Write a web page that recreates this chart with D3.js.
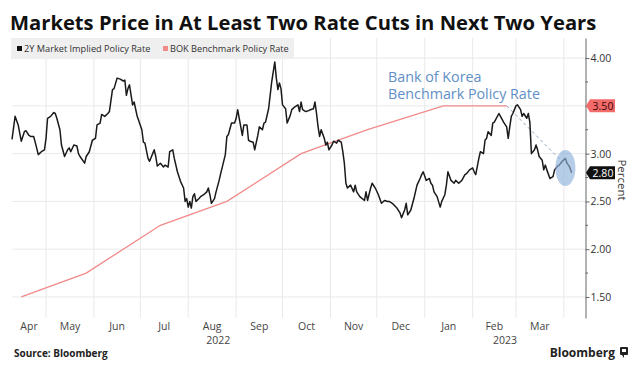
<!DOCTYPE html>
<html>
<head>
<meta charset="utf-8">
<script src="https://cdn.jsdelivr.net/npm/d3@7"></script>
<style>
  body { margin: 0; background: #fff; }
  text { font-family: "Open Sans", "Noto Sans", sans-serif; }
</style>
</head>
<body>
<script>
// Titulos y textos
var title = "Markets Price in At Least Two Rate Cuts in Next Two Years";
var seriesNames = ["2Y Market Implied Policy Rate", "BOK Benchmark Policy Rate"];
var annotationLines = ["Bank of Korea", "Benchmark Policy Rate"];

// 2Y market implied policy rate
var marketDates = [
  "2022-04-09","2022-04-11","2022-04-13","2022-04-15","2022-04-17","2022-04-18","2022-04-20","2022-04-21","2022-04-23","2022-04-24",
  "2022-04-26","2022-04-28","2022-04-30","2022-05-01","2022-05-02","2022-05-04","2022-05-06","2022-05-07","2022-05-08","2022-05-10",
  "2022-05-11","2022-05-13","2022-05-15","2022-05-16","2022-05-17","2022-05-19","2022-05-21","2022-05-22","2022-05-23","2022-05-26",
  "2022-05-27","2022-05-29","2022-05-31","2022-06-02","2022-06-03","2022-06-05","2022-06-06","2022-06-08","2022-06-10","2022-06-11",
  "2022-06-13","2022-06-14","2022-06-16","2022-06-18","2022-06-20","2022-06-21","2022-06-22","2022-06-23","2022-06-24","2022-06-26",
  "2022-06-27","2022-06-29","2022-07-02","2022-07-03","2022-07-04","2022-07-06","2022-07-07","2022-07-09","2022-07-10","2022-07-11",
  "2022-07-12","2022-07-14","2022-07-16","2022-07-17","2022-07-19","2022-07-20","2022-07-22","2022-07-23","2022-07-25","2022-07-27",
  "2022-07-29","2022-07-30","2022-07-31","2022-08-01","2022-08-02","2022-08-03","2022-08-04","2022-08-05","2022-08-06","2022-08-08",
  "2022-08-09","2022-08-11","2022-08-13","2022-08-14","2022-08-15","2022-08-16","2022-08-18","2022-08-19","2022-08-21","2022-08-22",
  "2022-08-25","2022-08-26","2022-08-27","2022-08-29","2022-08-31","2022-09-01","2022-09-02","2022-09-03","2022-09-05","2022-09-06",
  "2022-09-08","2022-09-09","2022-09-10","2022-09-12","2022-09-13","2022-09-15","2022-09-16","2022-09-18","2022-09-19","2022-09-20",
  "2022-09-22","2022-09-23","2022-09-24","2022-09-26","2022-09-27","2022-09-28","2022-09-29","2022-09-30","2022-10-01","2022-10-03",
  "2022-10-04","2022-10-06","2022-10-07","2022-10-09","2022-10-11","2022-10-12","2022-10-13","2022-10-14","2022-10-16","2022-10-18",
  "2022-10-19","2022-10-21","2022-10-22","2022-10-23","2022-10-24","2022-10-25","2022-10-26","2022-10-28","2022-10-29","2022-10-30",
  "2022-10-31","2022-11-02","2022-11-03","2022-11-05","2022-11-06","2022-11-08","2022-11-09","2022-11-10","2022-11-11","2022-11-12",
  "2022-11-14","2022-11-16","2022-11-17","2022-11-18","2022-11-20","2022-11-23","2022-11-24","2022-11-25","2022-11-27","2022-11-28",
  "2022-11-30","2022-12-02","2022-12-04","2022-12-06","2022-12-08","2022-12-09","2022-12-11","2022-12-14","2022-12-16","2022-12-17",
  "2022-12-19","2022-12-20","2022-12-21","2022-12-23","2022-12-25","2022-12-27","2022-12-29","2022-12-30","2022-12-31","2023-01-02",
  "2023-01-04","2023-01-05","2023-01-06","2023-01-07","2023-01-09","2023-01-11","2023-01-12","2023-01-14","2023-01-15","2023-01-16",
  "2023-01-18","2023-01-20","2023-01-21","2023-01-23","2023-01-25","2023-01-27","2023-01-28","2023-01-30","2023-02-01","2023-02-02",
  "2023-02-03","2023-02-05","2023-02-06","2023-02-08","2023-02-09","2023-02-10","2023-02-11","2023-02-13","2023-02-14","2023-02-15",
  "2023-02-18","2023-02-19","2023-02-21","2023-02-23","2023-02-24","2023-02-25","2023-02-26","2023-02-27","2023-03-01","2023-03-02",
  "2023-03-04","2023-03-05","2023-03-06","2023-03-08","2023-03-09","2023-03-10","2023-03-11","2023-03-13","2023-03-14","2023-03-15",
  "2023-03-16","2023-03-18","2023-03-19","2023-03-20","2023-03-21","2023-03-23","2023-03-25","2023-03-26","2023-03-28","2023-03-29",
  "2023-03-31","2023-04-02","2023-04-03","2023-04-04","2023-04-05","2023-04-06"
];
var marketRates = [
  3.15,3.39,3.30,3.13,3.23,3.24,3.19,3.18,3.18,3.12,
  2.99,3.02,3.04,3.16,3.37,3.39,3.43,3.42,3.37,3.25,
  3.09,2.97,3.04,3.06,3.02,3.09,3.08,3.00,2.97,2.90,
  2.97,3.02,3.14,3.16,3.30,3.32,3.41,3.39,3.42,3.44,
  3.67,3.68,3.79,3.78,3.76,3.77,3.61,3.68,3.72,3.51,
  3.54,3.39,3.25,3.12,3.11,2.95,2.92,3.00,3.04,2.97,
  2.87,2.90,2.86,2.88,2.86,3.02,3.04,2.95,2.81,2.71,
  2.64,2.50,2.53,2.44,2.50,2.43,2.55,2.58,2.50,2.53,
  2.55,2.57,2.60,2.64,2.57,2.48,2.53,2.60,2.72,2.79,
  2.99,3.18,3.20,3.32,3.32,3.37,3.46,3.37,3.19,3.30,
  3.30,3.14,3.13,3.12,3.04,3.19,3.28,3.25,3.32,3.33,
  3.47,3.61,3.75,3.96,3.79,3.67,3.74,3.68,3.51,3.47,
  3.32,3.40,3.46,3.49,3.51,3.44,3.54,3.46,3.44,3.45,
  3.46,3.47,3.54,3.42,3.28,3.18,3.25,3.16,3.09,3.12,
  3.04,3.09,3.13,3.11,3.14,3.12,3.02,2.90,2.69,2.64,
  2.67,2.60,2.67,2.60,2.55,2.51,2.60,2.51,2.64,2.69,
  2.64,2.57,2.48,2.51,2.50,2.50,2.48,2.43,2.38,2.33,
  2.41,2.48,2.36,2.41,2.53,2.67,2.74,2.78,2.81,2.72,
  2.74,2.69,2.67,2.60,2.55,2.44,2.50,2.57,2.67,2.81,
  2.72,2.69,2.72,2.69,2.72,2.78,2.79,2.83,2.85,2.81,
  2.78,2.95,3.02,3.00,3.14,3.16,3.23,3.19,3.32,3.33,
  3.42,3.39,3.33,3.28,3.16,3.28,3.39,3.42,3.50,3.51,
  3.46,3.39,3.42,3.37,3.42,3.33,3.00,3.04,3.09,3.04,
  2.97,2.93,2.83,2.88,2.83,2.74,2.76,2.83,2.87,2.88,
  2.92,2.95,2.90,2.88,2.85,2.80
];

// Tipo de referencia del Bank of Korea (decisiones)
var bokDates = ["2022-04-15","2022-05-27","2022-07-14","2022-08-26","2022-10-13","2022-11-25","2023-01-13","2023-02-23"];
var bokRates = [1.50, 1.75, 2.25, 2.50, 3.00, 3.25, 3.50, 3.50];

// Anotacion: linea discontinua y elipse
var dashDates = ["2023-02-23", "2023-03-30"];
var dashRates = [3.50, 2.93];
var ellipseDate = "2023-04-02", ellipseRate = 2.85;

// Ejes
var xDomain = ["2022-04-09", "2023-04-15"];
var yDomain = [1.28, 4.21];
var yMajorTicks = [1.50, 2.00, 2.50, 3.00, 3.50, 4.00];
var yMinorTicks = [1.75, 2.25, 2.75, 3.25, 3.75];
var lastMarket = 2.80, lastBok = 3.50;

var parseDate = d3.timeParse("%Y-%m-%d");

var width = 644, height = 376;
var plot = {left: 12, right: 585.5, top: 38, bottom: 318};

var x = d3.scaleTime().domain(xDomain.map(parseDate)).range([plot.left, plot.right]);
var y = d3.scaleLinear().domain(yDomain).range([plot.bottom, plot.top]);

var svg = d3.select("body").append("svg")
    .attr("width", width)
    .attr("height", height);

svg.append("rect").attr("width", width).attr("height", height).attr("fill", "#fff");

// Titulo
svg.append("text")
    .attr("x", 10).attr("y", 30)
    .attr("font-family", "'DejaVu Sans', sans-serif")
    .attr("font-weight", "bold")
    .attr("font-size", 20.2)
    .attr("fill", "#111")
    .text(title);

// Rejilla vertical (inicio de cada mes)
var monthStarts = d3.timeMonth.range(d3.timeMonth.ceil(x.domain()[0]), x.domain()[1]);
svg.append("g").selectAll("line")
    .data(monthStarts)
    .enter().append("line")
    .attr("x1", function(d) { return x(d); })
    .attr("x2", function(d) { return x(d); })
    .attr("y1", plot.top).attr("y2", plot.bottom)
    .attr("stroke", "#e9e9e9").attr("stroke-width", 1);

// Rejilla horizontal
svg.append("g").selectAll("line")
    .data(yMajorTicks)
    .enter().append("line")
    .attr("x1", plot.left).attr("x2", plot.right)
    .attr("y1", function(d) { return y(d); })
    .attr("y2", function(d) { return y(d); })
    .attr("stroke", "#e9e9e9").attr("stroke-width", 1);

// Leyenda
svg.append("rect")
    .attr("x", 11).attr("y", 38).attr("width", 283).attr("height", 21)
    .attr("fill", "#efefef");
var legendX = [17, 163];
var legendColors = ["#111", "#f28a8a"];
seriesNames.forEach(function(name, i) {
  svg.append("rect")
      .attr("x", legendX[i]).attr("y", 46).attr("width", 5).attr("height", 5)
      .attr("fill", legendColors[i]);
  svg.append("text")
      .attr("x", legendX[i] + 7).attr("y", 52)
      .attr("font-size", 9.2)
      .attr("fill", "#333")
      .text(name);
});

// Linea del BOK
var bokData = bokDates.map(function(d, i) { return {date: parseDate(d), value: bokRates[i]}; });
var line = d3.line()
    .x(function(d) { return x(d.date); })
    .y(function(d) { return y(d.value); });

svg.append("path")
    .attr("d", line(bokData))
    .attr("fill", "none")
    .attr("stroke", "#f28a8a")
    .attr("stroke-width", 1.3);

// Linea discontinua de la anotacion
var dashData = dashDates.map(function(d, i) { return {date: parseDate(d), value: dashRates[i]}; });
svg.append("path")
    .attr("d", line(dashData))
    .attr("fill", "none")
    .attr("stroke", "#8ea3ba")
    .attr("stroke-width", 1)
    .attr("stroke-dasharray", "3,3");

// Linea del mercado
var marketData = marketDates.map(function(d, i) { return {date: parseDate(d), value: marketRates[i]}; });
svg.append("path")
    .attr("d", line(marketData))
    .attr("fill", "none")
    .attr("stroke", "#1a1a1a")
    .attr("stroke-width", 1.5)
    .attr("stroke-linejoin", "round");

// Elipse
svg.append("ellipse")
    .attr("cx", x(parseDate(ellipseDate)))
    .attr("cy", y(ellipseRate))
    .attr("rx", 10).attr("ry", 18)
    .attr("fill", "#8fb2db")
    .attr("opacity", 0.65);

// Texto de la anotacion (un solo texto en dos lineas)
svg.append("text")
    .attr("x", 388).attr("y", 82)
    .attr("font-size", 14.3)
    .attr("fill", "#5f8fc6")
  .selectAll("tspan")
    .data(annotationLines)
    .enter().append("tspan")
    .attr("x", 388)
    .attr("dy", function(d, i) { return i === 0 ? 0 : 16.5; })
    .text(function(d) { return d; });

// Eje Y a la derecha (la etiqueta del ultimo valor del BOK sustituye a la de 3.50)
var yAxis = d3.axisRight(y)
    .tickValues(yMajorTicks)
    .tickFormat(function(d) { return d === lastBok ? "" : d3.format(".2f")(d); })
    .tickSize(4)
    .tickSizeOuter(0);

var yAxisG = svg.append("g")
    .attr("transform", "translate(" + plot.right + ",0)")
    .call(yAxis);
yAxisG.select(".domain").attr("stroke", "#666");
yAxisG.selectAll(".tick line").attr("stroke", "#666");
yAxisG.selectAll(".tick text")
    .attr("x", 5)
    .attr("font-family", "'Open Sans', sans-serif")
    .attr("font-size", 10.5)
    .attr("fill", "#333");

svg.append("g").selectAll("line")
    .data(yMinorTicks)
    .enter().append("line")
    .attr("x1", plot.right).attr("x2", plot.right + 2.5)
    .attr("y1", function(d) { return y(d); })
    .attr("y2", function(d) { return y(d); })
    .attr("stroke", "#666");

// Etiquetas de ultimo valor
function valueTag(v, fill, color) {
  var yc = y(v), x0 = plot.right + 0.5;
  svg.append("path")
      .attr("d", "M" + x0 + "," + yc + "L" + (x0 + 4) + "," + (yc - 6.5) + "H" + (x0 + 29) +
                 "V" + (yc + 6.5) + "H" + (x0 + 4) + "Z")
      .attr("fill", fill);
  svg.append("text")
      .attr("x", x0 + 17).attr("y", yc + 4)
      .attr("text-anchor", "middle")
      .attr("font-size", 10.5)
      .attr("fill", color)
      .text(d3.format(".2f")(v));
}
valueTag(lastBok, "#f26b6b", "#3a0505");
valueTag(lastMarket, "#111", "#fff");

// Titulo del eje Y
svg.append("text")
    .attr("transform", "translate(618,180) rotate(90)")
    .attr("text-anchor", "middle")
    .attr("font-size", 11.5)
    .attr("fill", "#333")
    .text("Percent");

// Etiquetas de meses centradas en la parte visible de cada mes
var fmtMonth = d3.timeFormat("%b");
var months = d3.timeMonth.range(d3.timeMonth.floor(x.domain()[0]), x.domain()[1]);
var monthLabels = months.map(function(m) {
  var a = Math.max(x(m), plot.left), b = Math.min(x(d3.timeMonth.offset(m, 1)), plot.right);
  return {label: fmtMonth(m), pos: (a + b) / 2, w: b - a};
}).filter(function(d) { return d.w > 30; });

svg.append("g").selectAll("text")
    .data(monthLabels)
    .enter().append("text")
    .attr("x", function(d) { return d.pos; })
    .attr("y", 330)
    .attr("text-anchor", "middle")
    .attr("font-size", 10.5)
    .attr("fill", "#444")
    .text(function(d) { return d.label; });

var years = d3.timeYear.range(d3.timeYear.floor(x.domain()[0]), x.domain()[1]);
var yearLabels = years.map(function(yr) {
  var a = Math.max(x(yr), plot.left), b = Math.min(x(d3.timeYear.offset(yr, 1)), plot.right);
  return {label: d3.timeFormat("%Y")(yr), pos: (a + b) / 2};
});
svg.append("g").selectAll("text")
    .data(yearLabels)
    .enter().append("text")
    .attr("x", function(d) { return d.pos; })
    .attr("y", 344)
    .attr("text-anchor", "middle")
    .attr("font-size", 10.5)
    .attr("fill", "#444")
    .text(function(d) { return d.label; });

// Fuente y marca
svg.append("text")
    .attr("x", 14).attr("y", 357)
    .attr("font-family", "'DejaVu Sans', sans-serif")
    .attr("font-weight", "bold")
    .attr("font-size", 10)
    .attr("fill", "#222")
    .text("Source: Bloomberg");

svg.append("text")
    .attr("x", 615).attr("y", 357)
    .attr("text-anchor", "end")
    .attr("font-weight", "bold")
    .attr("font-size", 12)
    .attr("fill", "#222")
    .text("Bloomberg");
svg.append("rect").attr("x", 620).attr("y", 347).attr("width", 8).attr("height", 8).attr("rx", 1).attr("fill", "#222");
svg.append("rect").attr("x", 622).attr("y", 349).attr("width", 4).attr("height", 3).attr("fill", "#fff");
svg.append("path").attr("d", "M622,355L624,358L624,355Z").attr("fill", "#222");
</script>
</body>
</html>
